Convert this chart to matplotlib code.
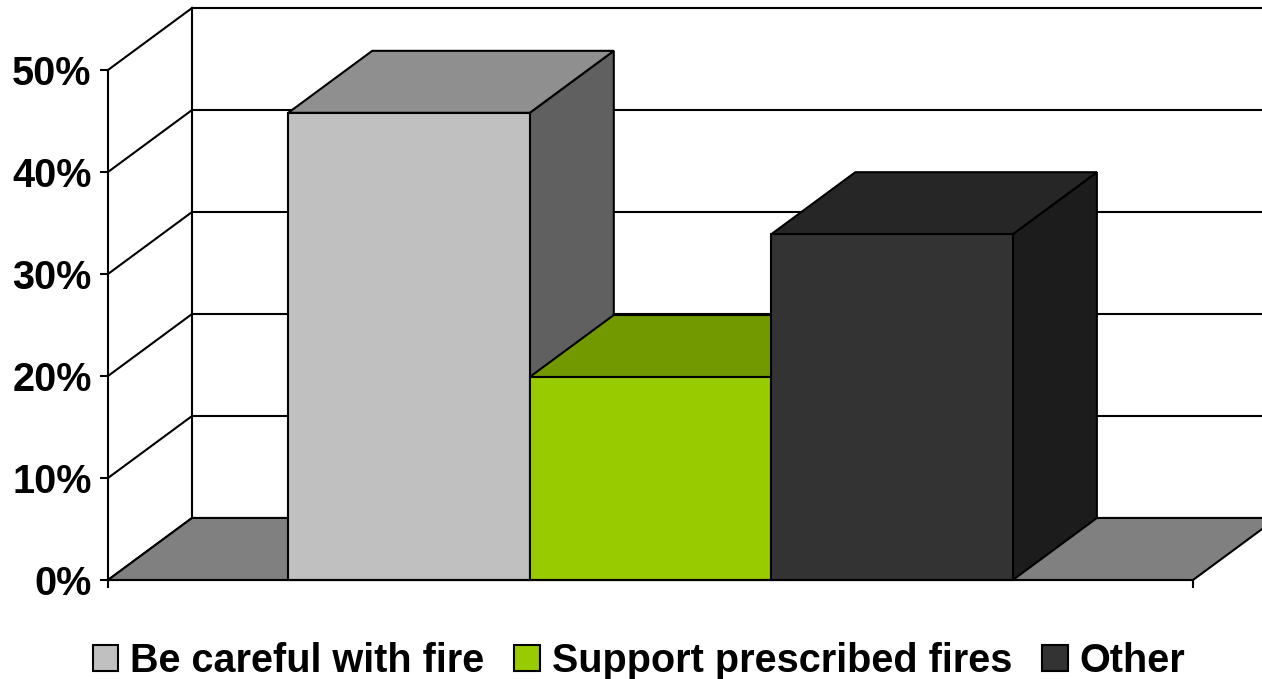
import matplotlib
matplotlib.use('Agg')
import matplotlib.pyplot as plt
from matplotlib.patches import Polygon, Patch

plt.rcParams['font.family'] = ['Liberation Sans', 'DejaVu Sans']
plt.rcParams['font.weight'] = 'bold'

categories = ['Be careful with fire', 'Support prescribed fires', 'Other']
values = [45.8, 19.9, 33.9]
front_colors = ['#C0C0C0', '#99CC00', '#333333']
top_colors = ['#8F8F8F', '#739900', '#262626']
side_colors = ['#606060', '#5C7A00', '#1C1C1C']
yticks = [0, 10, 20, 30, 40, 50]

# geometry of the fake 3d box (data units)
gap = 0.746
width = 1.0
floor_w = 2 * gap + len(values) * width
dx, dy = 0.348, 6.08
lw = 1.5


def poly(ax, pts, fc, z=2):
    ax.add_patch(Polygon(pts, closed=True, facecolor=fc, edgecolor='black',
                         linewidth=lw, joinstyle='miter', clip_on=False, zorder=z))


fig = plt.figure(figsize=(12.62, 6.79), dpi=100)
ax = fig.add_axes([108 / 1262, 99 / 679, 1085 / 1262, 510 / 679])
ax.set_xlim(0, floor_w)
ax.set_ylim(0, 50)

# back wall gridlines + left wall
far = floor_w + dx + 1
for v in yticks:
    ax.plot([dx, far], [v + dy, v + dy], color='black', lw=lw, clip_on=False, zorder=1)
    ax.plot([0, dx], [v, v + dy], color='black', lw=lw, clip_on=False, zorder=1)
ax.plot([dx, dx], [dy, 50 + dy], color='black', lw=lw, clip_on=False, zorder=1)

# floor
poly(ax, [(0, 0), (floor_w, 0), (floor_w + dx, dy), (dx, dy)], '#808080', z=1.5)

# bars, left to right
for i, v in enumerate(values):
    x0 = gap + i * width
    x1 = x0 + width
    poly(ax, [(x1, 0), (x1 + dx, dy), (x1 + dx, v + dy), (x1, v)], side_colors[i])
    poly(ax, [(x0, v), (x1, v), (x1 + dx, v + dy), (x0 + dx, v + dy)], top_colors[i])
    poly(ax, [(x0, 0), (x1, 0), (x1, v), (x0, v)], front_colors[i])

for s in ['top', 'right']:
    ax.spines[s].set_visible(False)
for s in ['left', 'bottom']:
    ax.spines[s].set_linewidth(lw)
    ax.spines[s].set_zorder(3)
ax.set_yticks(yticks)
ax.set_yticklabels([f'{v}%' for v in yticks])
ax.set_xticks([0, floor_w])
ax.set_xticklabels([])
ax.tick_params(axis='both', direction='out', length=5.8, width=lw, labelsize=28.5, pad=6)
ax.patch.set_visible(False)

handles = [Patch(facecolor=c, edgecolor='black', linewidth=lw) for c in front_colors]
fig.legend(handles, categories, loc='center', bbox_to_anchor=(639 / 1262, 1 - 661 / 679),
           ncol=3, frameon=False, prop={'size': 28.5, 'weight': 'bold'},
           handlelength=0.65, handleheight=0.65, handletextpad=0.3, columnspacing=0.75)

fig.savefig('out.png', dpi=100)
